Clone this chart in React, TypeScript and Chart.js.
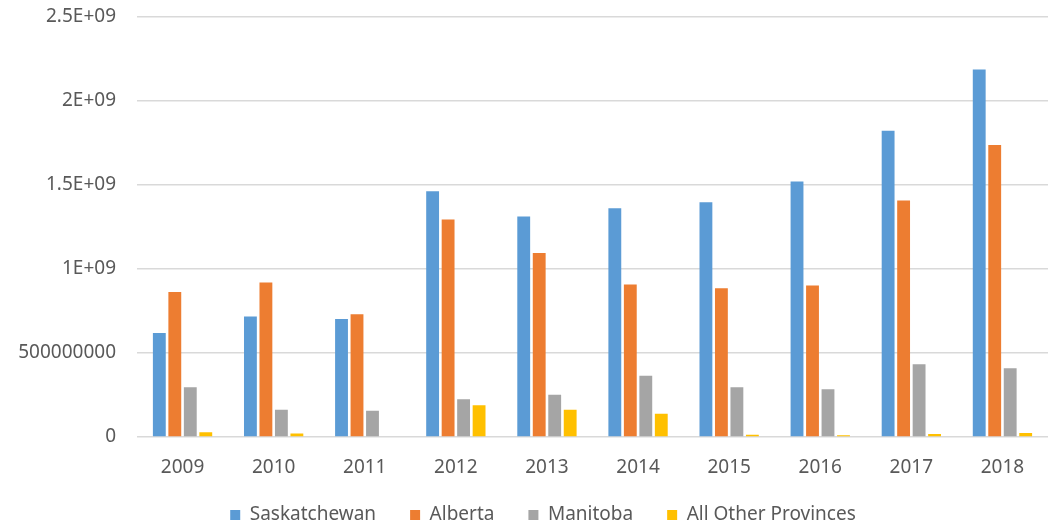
import React, { useEffect, useRef } from "react";
import { Chart, registerables } from "chart.js";

Chart.register(...registerables);

const years = ["2009", "2010", "2011", "2012", "2013", "2014", "2015", "2016", "2017", "2018"];
const saskatchewan = [0.618e9, 0.716e9, 0.701e9, 1.46e9, 1.311e9, 1.36e9, 1.396e9, 1.518e9, 1.82e9, 2.185e9];
const alberta = [0.862e9, 0.918e9, 0.729e9, 1.293e9, 1.094e9, 0.906e9, 0.884e9, 0.901e9, 1.405e9, 1.736e9];
const manitoba = [0.295e9, 0.162e9, 0.156e9, 0.225e9, 0.251e9, 0.364e9, 0.295e9, 0.284e9, 0.433e9, 0.409e9];
const otherProvinces = [0.028e9, 0.021e9, 0, 0.188e9, 0.162e9, 0.138e9, 0.014e9, 0.01e9, 0.018e9, 0.024e9];
const yTickLabels = ["0", "500000000", "1E+09", "1.5E+09", "2E+09", "2.5E+09"];

const FONT = "'Noto Sans', sans-serif";
const TEXT = "#595959";
const GRID = "#d9d9d9";
const LEGEND_PAD = 34;

const legendShift = {
  id: "legendShift",
  afterLayout(chart: any) {
    const lg = chart.legend;
    if (!lg) return;
    const targetTop = 515 - LEGEND_PAD - 9.5;
    const dy = targetTop - lg.top;
    lg.top += dy;
    lg.bottom += dy;
    lg.left += 19;
    lg.right += 19;
  },
};

export default function App() {
  const canvasRef = useRef<HTMLCanvasElement | null>(null);

  useEffect(() => {
    if (!canvasRef.current) return;
    const chart = new Chart(canvasRef.current, {
      type: "bar",
      data: {
        labels: years,
        datasets: [
          { label: "Saskatchewan", data: saskatchewan, backgroundColor: "#5B9BD5" },
          { label: "Alberta", data: alberta, backgroundColor: "#ED7D31" },
          { label: "Manitoba", data: manitoba, backgroundColor: "#A5A5A5" },
          { label: "All Other Provinces", data: otherProvinces, backgroundColor: "#FFC000" },
        ],
      },
      options: {
        animation: false,
        responsive: true,
        maintainAspectRatio: false,
        datasets: {
          bar: { categoryPercentage: 0.68, barPercentage: 0.83 },
        },
        layout: { padding: { top: 0, right: 3, left: 0, bottom: 0 } },
        plugins: {
          tooltip: { enabled: false },
          legend: {
            position: "bottom",
            labels: {
              font: { family: FONT, size: 19 },
              color: TEXT,
              boxWidth: 10,
              boxHeight: 10,
              padding: LEGEND_PAD,
            },
          },
        },
        scales: {
          x: {
            grid: { display: false, drawTicks: false },
            border: { display: false },
            ticks: { font: { family: FONT, size: 19 }, color: TEXT, padding: 19 },
            afterFit: (scale: any) => {
              scale.height = 43;
            },
          },
          y: {
            min: 0,
            max: 2.5e9,
            grid: {
              color: GRID,
              lineWidth: 1.5,
              drawTicks: true,
              tickLength: 16,
              tickColor: "rgba(0,0,0,0)",
            },
            border: { display: false },
            ticks: {
              stepSize: 5e8,
              font: { family: FONT, size: 19 },
              color: TEXT,
              padding: 5,
              callback: (_v: any, i: number) => yTickLabels[i],
            },
            afterFit: (scale: any) => {
              scale.width = 137;
            },
          },
        },
      },
      plugins: [legendShift],
    });
    return () => chart.destroy();
  }, []);

  return (
    <div style={{ position: "absolute", left: 0, top: 0, width: 1051, height: 526, overflow: "hidden", background: "#fff" }}>
      <div style={{ position: "relative", width: 1051, height: 543 }}>
        <canvas ref={canvasRef} />
      </div>
    </div>
  );
}
